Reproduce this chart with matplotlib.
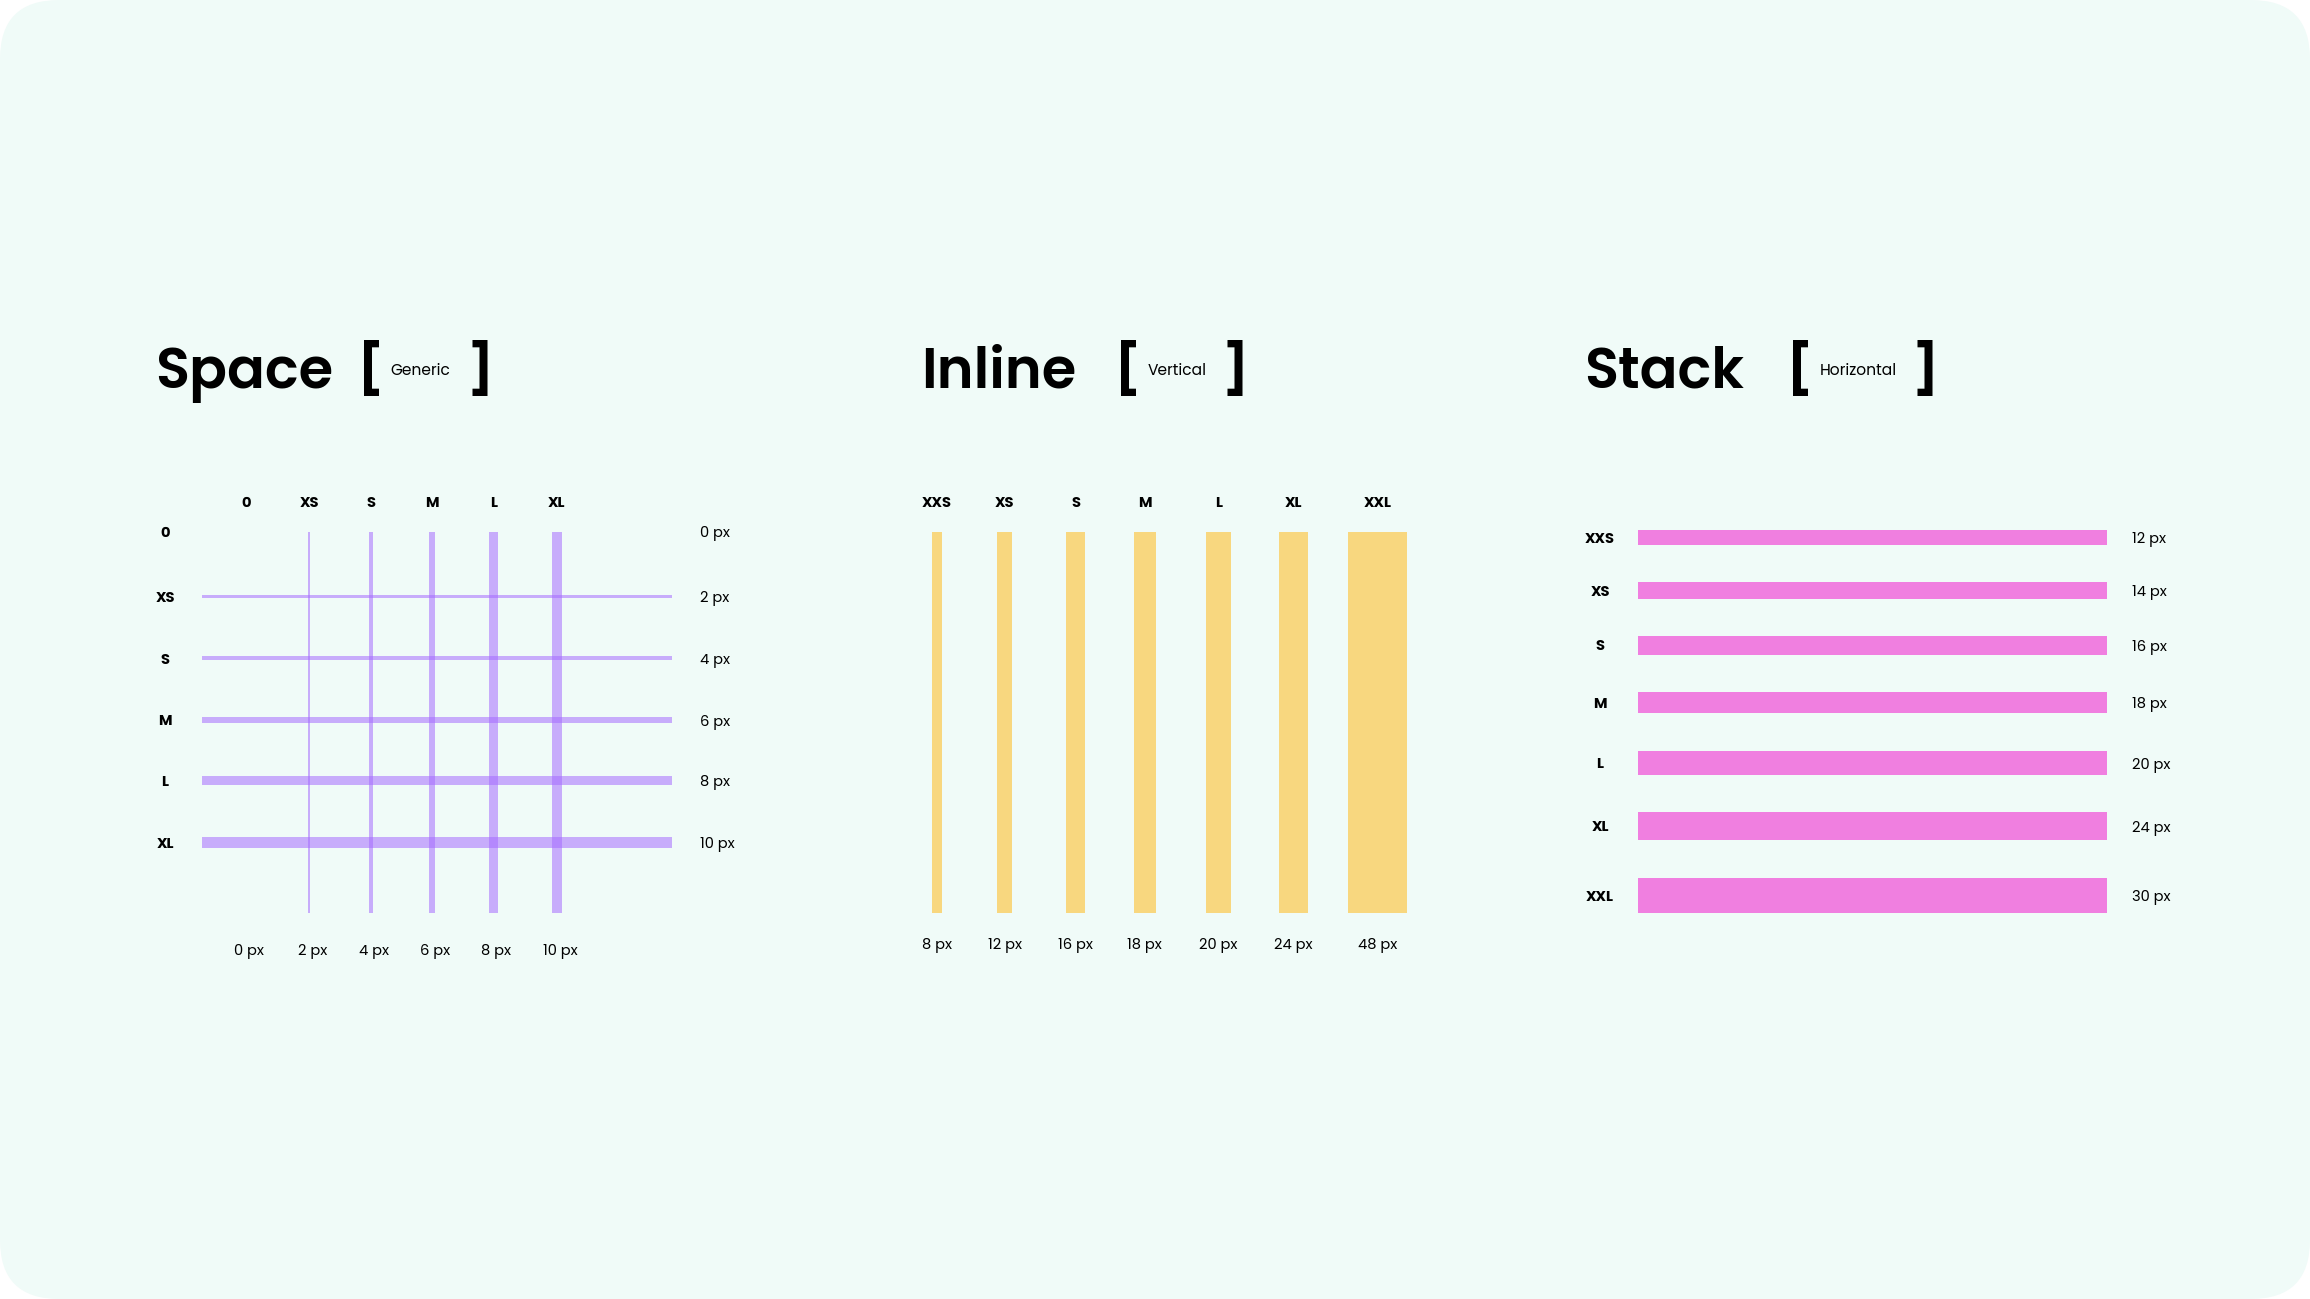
import matplotlib.pyplot as plt
from matplotlib.patches import FancyBboxPatch, Rectangle

plt.rcParams['font.family'] = ['Poppins', 'Lato', 'DejaVu Sans']

# Space grid
space_names = ['0', 'XS', 'S', 'M', 'L', 'XL']
space_px = [0, 2, 4, 6, 8, 10]
space_cols = [167, 210, 252, 293, 335, 378]
space_rows = [361, 405, 447, 489, 530, 572]

# Inline (vertical bars)
inline_names = ['XXS', 'XS', 'S', 'M', 'L', 'XL', 'XXL']
inline_px = [8, 12, 16, 18, 20, 24, 48]
inline_x = [636, 682, 730, 777, 827, 878, 935]

# Stack (horizontal bars)
stack_names = ['XXS', 'XS', 'S', 'M', 'L', 'XL', 'XXL']
stack_px = [12, 14, 16, 18, 20, 24, 30]
stack_y = [365, 401, 438, 477, 518, 561, 608]

W, H = 1568, 882
fig = plt.figure(figsize=(23.1, 12.99), dpi=100)
ax = fig.add_axes([0, 0, 1, 1])
ax.set_xlim(0, W)
ax.set_ylim(H, 0)
ax.axis('off')
fig.patch.set_facecolor('white')
ax.add_patch(FancyBboxPatch((0, 0), W, H, boxstyle='round,pad=0,rounding_size=40',
                            fc='#f0fbf8', ec='none'))

def fs(px):
    return px * 1.06

def title(x, name, sub, gap, close):
    ax.text(x, 254, name, fontsize=fs(38), fontweight='semibold', va='center', ha='left')
    bx = x + gap
    ax.text(bx, 252, '[', fontsize=fs(34), fontweight='bold', va='center', ha='left')
    ax.text(bx + 22, 252, sub, fontsize=fs(10.5), va='center', ha='left')
    ax.text(close, 252, ']', fontsize=fs(34), fontweight='bold', va='center', ha='left')

lbl = dict(fontsize=fs(10), fontweight='bold', va='center', ha='center')
val = dict(fontsize=fs(10), va='center')

# Space
title(105, 'Space', 'Generic', 138, 317)
col = '#a66cff'
k = 0.7
for x, p, n in zip(space_cols, space_px, space_names):
    if p:
        ax.add_patch(Rectangle((x - p * k / 2, 361), p * k, 259, fc=col, alpha=0.55, ec='none'))
    ax.text(x, 342, n, **lbl)
    ax.text(x + 2, 646, f'{p} px', ha='center', **val)
for y, p, n in zip(space_rows, space_px, space_names):
    if p:
        ax.add_patch(Rectangle((137, y - p * k / 2), 319, p * k, fc=col, alpha=0.55, ec='none'))
    ax.text(112, y + 1.5, n, **lbl)
    ax.text(475, y + 1.5, f'{p} px', ha='left', **val)

# Inline
title(625, 'Inline', 'Vertical', 132, 830)
k = 0.83
for x, p, n in zip(inline_x, inline_px, inline_names):
    ax.add_patch(Rectangle((x - p * k / 2, 361), p * k, 259, fc='#f8d77f', ec='none'))
    ax.text(x, 342, n, **lbl)
    ax.text(x, 642, f'{p} px', ha='center', **val)

# Stack
title(1075, 'Stack', 'Horizontal', 138, 1298)
k = 0.8
for y, p, n in zip(stack_y, stack_px, stack_names):
    ax.add_patch(Rectangle((1112, y - p * k / 2), 318, p * k, fc='#f07fe0', ec='none'))
    ax.text(1086, y + 1.5, n, **lbl)
    ax.text(1447, y + 1.5, f'{p} px', ha='left', **val)

fig.savefig('out.png', dpi=100, facecolor='white')
